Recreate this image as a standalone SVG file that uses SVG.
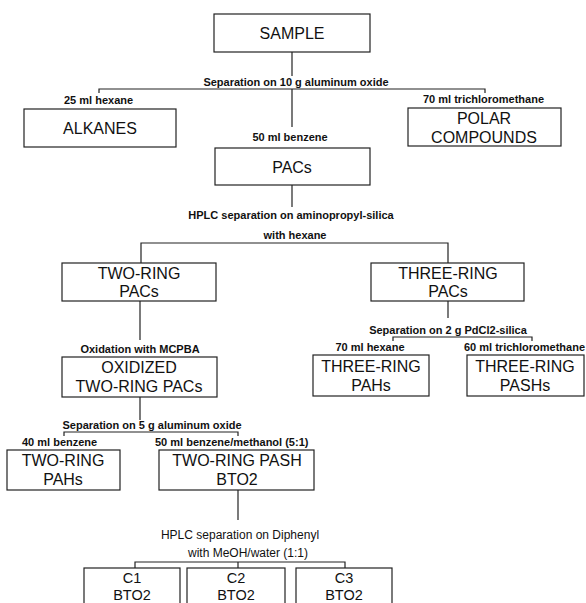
<svg xmlns="http://www.w3.org/2000/svg" width="586" height="603" viewBox="0 0 586 603">
<style>
.box{fill:#fff;stroke:#222;stroke-width:1.2}
.bt{font-family:"Liberation Sans",Arial,sans-serif;font-size:16px;fill:#111;text-anchor:middle}
.bs{font-size:14.5px}
.lb{font-family:"Liberation Sans",Arial,sans-serif;font-size:11px;font-weight:bold;fill:#111}
.lr{font-family:"Liberation Sans",Arial,sans-serif;font-size:12px;fill:#111}
.c{text-anchor:middle}
.ln{fill:none;stroke:#222;stroke-width:1.2}
</style>
<rect width="586" height="603" fill="#fff"/>
<g id="connectors">
<path class="ln" d="M292 52V76"/>
<path class="ln" d="M99 93V89H485V93M292 89V127"/>
<path class="ln" d="M292 185V207"/>
<path class="ln" d="M141 263V243H448V263"/>
<path class="ln" d="M140 301V340"/>
<path class="ln" d="M140 397V420"/>
<path class="ln" d="M64 436V432H238V436"/>
<path class="ln" d="M448 301V318"/>
<path class="ln" d="M393 341V337H532V341"/>
<path class="ln" d="M238 490V520"/>
<path class="ln" d="M135 568V562H345V568M238 562V568"/>
</g>
<g id="labels">
<text class="lb c" x="296" y="86">Separation on 10 g aluminum oxide</text>
<text class="lb" x="64" y="104">25 ml hexane</text>
<text class="lb" x="423" y="103">70 ml trichloromethane</text>
<text class="lb c" x="290" y="141">50 ml benzene</text>
<text class="lb c" x="291" y="219">HPLC separation on aminopropyl-silica</text>
<text class="lb c" x="295" y="239">with hexane</text>
<text class="lb c" x="140" y="353">Oxidation with MCPBA</text>
<text class="lb c" x="152" y="429">Separation on 5 g aluminum oxide</text>
<text class="lb" x="22" y="446">40 ml benzene</text>
<text class="lb" x="155" y="446">50 ml benzene/methanol (5:1)</text>
<text class="lb c" x="448" y="334">Separation on 2 g PdCl2-silica</text>
<text class="lb c" x="370" y="351">70 ml hexane</text>
<text class="lb" x="464" y="351">60 ml trichloromethane</text>
<text class="lr c" x="240" y="539">HPLC separation on Diphenyl</text>
<text class="lr c" x="248" y="557">with MeOH/water (1:1)</text>
</g>
<g id="sample"><rect class="box" x="214" y="14" width="156" height="38"/><text class="bt" x="292" y="39">SAMPLE</text></g>
<g id="alkanes"><rect class="box" x="24" y="109" width="152" height="38"/><text class="bt" x="100" y="134">ALKANES</text></g>
<g id="polar"><rect class="box" x="408" y="108" width="153" height="38"/><text class="bt" x="484" y="124">POLAR</text><text class="bt" x="484" y="143">COMPOUNDS</text></g>
<g id="pacs"><rect class="box" x="215" y="148" width="155" height="37"/><text class="bt" x="292" y="173">PACs</text></g>
<g id="tworing"><rect class="box" x="62" y="263" width="154" height="38"/><text class="bt" x="139" y="279">TWO-RING</text><text class="bt" x="139" y="297">PACs</text></g>
<g id="threering"><rect class="box" x="371" y="263" width="153" height="38"/><text class="bt" x="448" y="279">THREE-RING</text><text class="bt" x="448" y="297">PACs</text></g>
<g id="oxidized"><rect class="box" x="62" y="357" width="155" height="40"/><text class="bt" x="139" y="373">OXIDIZED</text><text class="bt" x="139" y="392">TWO-RING PACs</text></g>
<g id="threeringpahs"><rect class="box" x="313" y="355" width="116" height="41"/><text class="bt" x="371" y="372">THREE-RING</text><text class="bt" x="371" y="391">PAHs</text></g>
<g id="threeringpashs"><rect class="box" x="467" y="355" width="117" height="41"/><text class="bt" x="525" y="372">THREE-RING</text><text class="bt" x="525" y="391">PASHs</text></g>
<g id="tworingpahs"><rect class="box" x="7" y="450" width="113" height="40"/><text class="bt" x="63" y="466">TWO-RING</text><text class="bt" x="63" y="485">PAHs</text></g>
<g id="tworingpash"><rect class="box" x="159" y="450" width="155" height="40"/><text class="bt" x="237" y="466">TWO-RING PASH</text><text class="bt" x="237" y="485">BTO2</text></g>
<g id="c1"><rect class="box" x="84" y="568" width="96" height="42"/><text class="bt bs" x="132" y="583">C1</text><text class="bt bs" x="132" y="599.5">BTO2</text></g>
<g id="c2"><rect class="box" x="187" y="568" width="98" height="42"/><text class="bt bs" x="236" y="583">C2</text><text class="bt bs" x="236" y="599.5">BTO2</text></g>
<g id="c3"><rect class="box" x="296" y="568" width="96" height="42"/><text class="bt bs" x="344" y="583">C3</text><text class="bt bs" x="344" y="599.5">BTO2</text></g>
</svg>
